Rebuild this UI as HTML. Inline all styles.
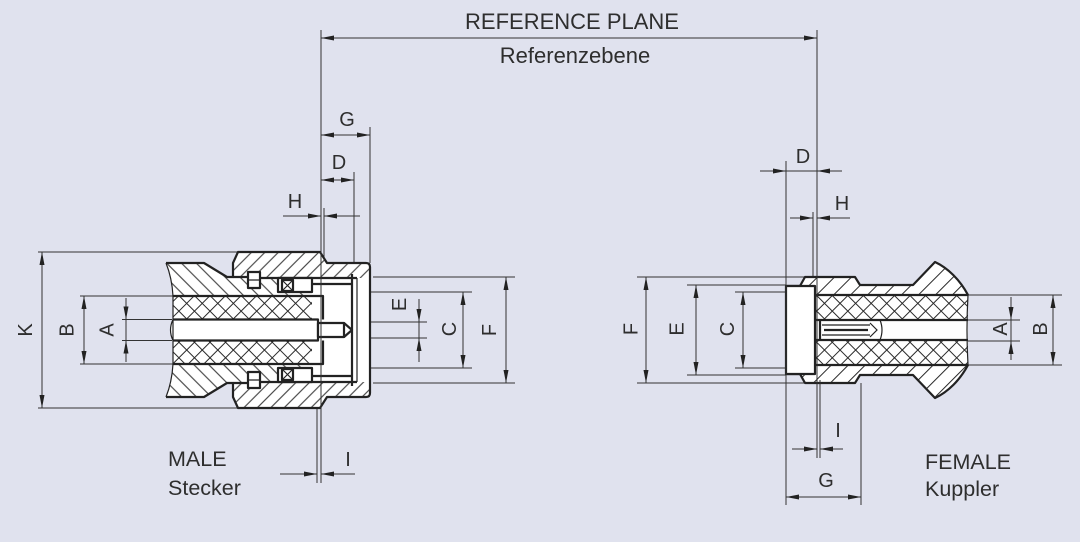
<!DOCTYPE html>
<html><head><meta charset="utf-8"><style>
html,body{margin:0;padding:0;background:#e0e2ee;}
svg{display:block;}
text{font-family:"Liberation Sans",Arial,sans-serif;fill:#2e2e2e;}
.d{stroke:#333;stroke-width:1;fill:none;marker-end:url(#ar);}
.b{stroke:#333;stroke-width:1;fill:none;marker-start:url(#ar);marker-end:url(#ar);}
</style></head><body>
<svg width="1080" height="542" viewBox="0 0 1080 542" xmlns="http://www.w3.org/2000/svg">
<defs>
<marker id="ar" viewBox="0 0 13 5" refX="13" refY="2.5" markerWidth="13" markerHeight="5" markerUnits="userSpaceOnUse" orient="auto-start-reverse"><path d="M0,0 L13,2.5 L0,5 Z" fill="#222"/></marker>
<pattern id="hm" patternUnits="userSpaceOnUse" width="9.5" height="9.5" patternTransform="rotate(45)"><line x1="4.75" y1="0" x2="4.75" y2="9.5" stroke="#2a2a2a" stroke-width="1"/></pattern>
<pattern id="hf" patternUnits="userSpaceOnUse" width="12" height="12" patternTransform="rotate(45)"><line x1="6" y1="0" x2="6" y2="12" stroke="#2a2a2a" stroke-width="1"/></pattern>
<pattern id="hb" patternUnits="userSpaceOnUse" width="10.5" height="10.5" patternTransform="rotate(-45)"><line x1="5.25" y1="0" x2="5.25" y2="10.5" stroke="#2a2a2a" stroke-width="1"/></pattern>
<pattern id="hx" patternUnits="userSpaceOnUse" width="11" height="11" patternTransform="rotate(45)"><line x1="5.5" y1="0" x2="5.5" y2="11" stroke="#2a2a2a" stroke-width="1"/><line x1="0" y1="5.5" x2="11" y2="5.5" stroke="#2a2a2a" stroke-width="1"/></pattern>
</defs>
<rect width="1080" height="542" fill="#e0e2ee"/>

<!-- extension lines (male) -->
<path stroke="#333" stroke-width="1" fill="none" d="M370,127 V263 M354,172 V274 M324,208 V300 M317,380 V483
M38,252 H238 M38,408 H238 M80,296 H173 M80,364 H173 M122,319.5 H172 M122,340.5 H172 M126,319.5 V340.5
M373,277 H515 M373,383 H515 M355,292 H472 M355,368 H472 M350,322 H427 M350,338 H427 M419,322 V338"/>
<!-- extension lines (female) -->
<path stroke="#333" stroke-width="1" fill="none" d="M786,171 H817 M813,212 V290 M861,383 V505
M637,277 H805 M637,383 H805 M687,285 H786 M687,375 H786 M735,292 H786 M735,368 H786
M968,320 H1020 M968,341 H1020 M1011,320 V341 M968,295 H1062 M968,365 H1062"/>

<!-- MALE connector -->
<path d="M166,263 L204,263 L227,277 L233,277 L233,263 L238,252 L320,252 L327,263 L366,263 Q370,263 370,267 L370,393 Q370,397 366,397 L327,397 L320,408 L238,408 L233,397 L233,383 L227,383 L204,397 L166,397 Q172,382 173,364 L173,341 Q168,330 173,319 L173,296 Q172,278 166,263 Z" fill="#fff"/>
<path d="M233,263 L238,252 L320,252 L327,263 L366,263 Q370,263 370,267 L370,278 L260,278 L260,272 L248,272 L248,277 L233,277 Z M233,397 L238,408 L320,408 L327,397 L366,397 Q370,397 370,393 L370,382 L260,382 L260,388 L248,388 L248,383 L233,383 Z" fill="url(#hm)"/>
<path d="M166,263 L204,263 L227,277 L248,277 L248,288 L260,288 L260,278 L278,278 L278,292 L312,292 L312,284 L323,284 L323,296 L173,296 Q172,278 166,263 Z M166,397 L204,397 L227,383 L248,383 L248,372 L260,372 L260,382 L278,382 L278,368 L312,368 L312,376 L323,376 L323,364 L173,364 Q172,382 166,397 Z" fill="url(#hb)"/>
<path d="M173,296 h150 v23.5 h-150 Z M173,340.5 h150 v23.5 h-150 Z" fill="url(#hx)"/>
<path d="M312,278 h58 v104 h-58 Z" fill="#fff"/>
<g stroke="#222" stroke-width="2.2" fill="none" stroke-linejoin="round">
<path d="M166,263 L204,263 L227,277 L233,277 L233,263 L238,252 L320,252 L327,263 L366,263 Q370,263 370,267 L370,393 Q370,397 366,397 L327,397 L320,408 L238,408 L233,397 L233,383 L227,383 L204,397 L166,397"/>
<path d="M173,296 H323 V319.5 M173,364 H323 V340.5 M173,319.5 H318 V340.5 H173 M233,277 H248 M233,383 H248 M260,278 H357 M260,382 H357 M312,284 H352 M312,376 H352 M352,274 V386"/>
<path fill="#fff" d="M248,272 h12 v16 h-12 Z M248,372 h12 v16 h-12 Z M278,278 h34 v14 h-34 Z M278,368 h34 v14 h-34 Z M282,280 h11 v11 h-11 Z M282,369 h11 v11 h-11 Z M318,323 h26 v14 h-26 Z"/>
<path d="M344,323 L352,330 L344,337"/>
</g>
<path stroke="#222" stroke-width="1.2" fill="none" d="M248,280 H260 M248,380 H260 M282,280 L293,291 M293,280 L282,291 M282,369 L293,380 M293,369 L282,380 M357,278 V382 M166,263 Q172,278 173,296 L173,364 Q172,382 166,397 M173,319.5 Q168,330 173,340.5"/>

<!-- FEMALE connector -->
<path d="M786,286 L800,286 L805,277 L855,277 L860,285 L913,285 L935,262 C948,268 960,280 968,295 L968,365 C960,380 948,392 935,398 L913,375 L860,375 L855,383 L805,383 L800,374 L786,374 Z" fill="#fff"/>
<path d="M800,286 L805,277 L855,277 L860,285 L913,285 L935,262 C948,268 960,280 968,295 L815,295 L815,286 Z M800,374 L805,383 L855,383 L860,375 L913,375 L935,398 C948,392 960,380 968,365 L815,365 L815,374 Z" fill="url(#hf)"/>
<path d="M815,295 h153 v25 h-153 Z M815,340 h153 v25 h-153 Z" fill="url(#hx)"/>
<g stroke="#222" stroke-width="2.2" fill="none" stroke-linejoin="round">
<path d="M786,286 L800,286 L805,277 L855,277 L860,285 L913,285 L935,262 C948,268 960,280 968,295 M968,365 C960,380 948,392 935,398 L913,375 L860,375 L855,383 L805,383 L800,374 L786,374"/>
<path fill="#fff" d="M786,286 h29 v88 h-29 Z"/>
<path d="M815,295 H968 M815,320 H968 M815,340 H968 M815,365 H968 M820,320 V340 M824,330 H868"/>
</g>
<path stroke="#222" stroke-width="1.2" fill="none" d="M968,295 Q966,330 968,365 M822,325 H870 M822,335 H870 M870,323 L877,330 L870,337 M880,320 Q884,330 880,340"/>

<!-- reference lines over bodies -->
<path stroke="#333" stroke-width="1" fill="none" d="M321,30 V483 M817,30 V458 M786,161 V505 M820,380 V458"/>

<!-- dimension lines with arrowheads -->
<path class="b" d="M321,38 H817"/>
<path class="b" d="M321,135 H370"/>
<path class="b" d="M321,180 H354"/>
<path class="b" d="M42,252 V408"/>
<path class="b" d="M84,296 V364"/>
<path class="b" d="M506,277 V383"/>
<path class="b" d="M463,292 V368"/>
<path class="b" d="M786,497 H861"/>
<path class="b" d="M646,277 V383"/>
<path class="b" d="M696,285 V375"/>
<path class="b" d="M743,292 V368"/>
<path class="b" d="M1053,295 V365"/>
<path class="d" d="M283,216 H321"/>
<path class="d" d="M360,216 H324"/>
<path class="d" d="M280,474 H317"/>
<path class="d" d="M355,474 H321"/>
<path class="d" d="M126,298 V319.5"/>
<path class="d" d="M126,362 V340.5"/>
<path class="d" d="M419,299 V322"/>
<path class="d" d="M419,362 V338"/>
<path class="d" d="M760,171 H786"/>
<path class="d" d="M842,171 H817"/>
<path class="d" d="M790,218 H813"/>
<path class="d" d="M850,218 H817"/>
<path class="d" d="M792,449 H817"/>
<path class="d" d="M843,449 H820"/>
<path class="d" d="M1011,297 V320"/>
<path class="d" d="M1011,360 V341"/>

<!-- text -->
<text x="572" y="29" font-size="22" text-anchor="middle">REFERENCE PLANE</text>
<text x="575" y="63" font-size="22" text-anchor="middle">Referenzebene</text>
<g font-size="20" text-anchor="middle">
<text x="347" y="126">G</text>
<text x="339" y="169">D</text>
<text x="295" y="208">H</text>
<text x="348" y="466">I</text>
<text x="803" y="163">D</text>
<text x="842" y="210">H</text>
<text x="838" y="437">I</text>
<text x="826" y="487">G</text>
<text transform="translate(25,330) rotate(-90)" y="7">K</text>
<text transform="translate(66.5,330) rotate(-90)" y="7">B</text>
<text transform="translate(106.5,330) rotate(-90)" y="7">A</text>
<text transform="translate(399,304.5) rotate(-90)" y="7">E</text>
<text transform="translate(449,329) rotate(-90)" y="7">C</text>
<text transform="translate(489,330) rotate(-90)" y="7">F</text>
<text transform="translate(630.5,329) rotate(-90)" y="7">F</text>
<text transform="translate(676.5,329) rotate(-90)" y="7">E</text>
<text transform="translate(727,329) rotate(-90)" y="7">C</text>
<text transform="translate(1000,329) rotate(-90)" y="7">A</text>
<text transform="translate(1040,329) rotate(-90)" y="7">B</text>
</g>
<g font-size="21.5">
<text x="168" y="466">MALE</text>
<text x="168" y="495">Stecker</text>
<text x="925" y="469">FEMALE</text>
<text x="925" y="496">Kuppler</text>
</g>
</svg>
</body></html>
